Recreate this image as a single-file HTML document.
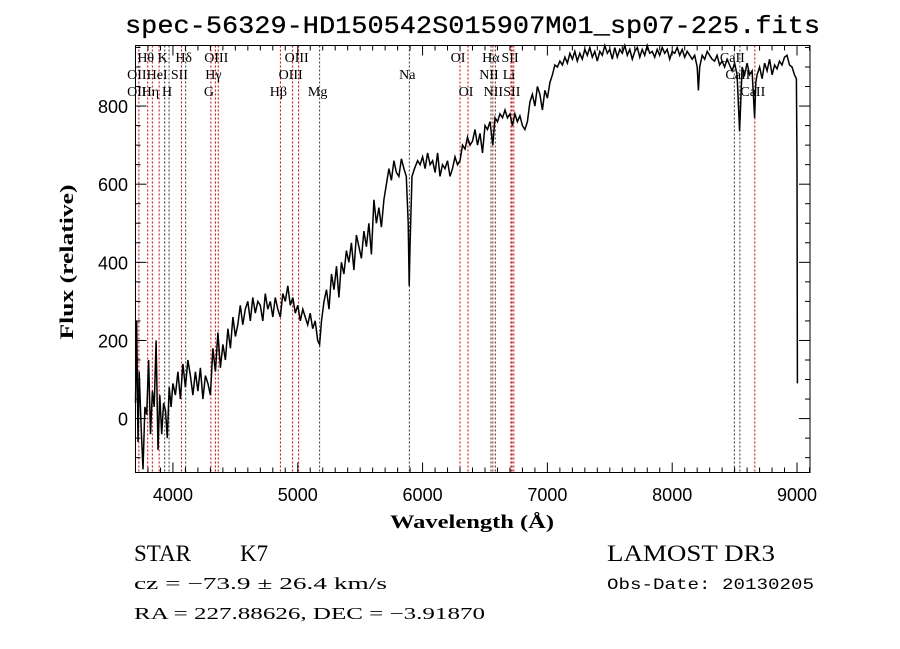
<!DOCTYPE html>
<html><head><meta charset="utf-8"><style>
html,body{margin:0;padding:0;background:#fff;}
svg{display:block;}
</style></head><body>
<svg id="chart" width="900" height="649" viewBox="0 0 900 649" xmlns="http://www.w3.org/2000/svg">
<rect width="900" height="649" fill="#fff"/>
<text x="125" y="33" font-family="Liberation Mono, monospace" font-size="25" stroke="#000" stroke-width="0.3" textLength="695" lengthAdjust="spacingAndGlyphs">spec-56329-HD150542S015907M01_sp07-225.fits</text>
<g id="lines"></g>
<g id="labels" font-family="Liberation Serif, DejaVu Serif, serif" font-size="14"></g>
<path id="spec" fill="none" stroke="#000" stroke-width="1.5"/>
<g id="axes"></g>
<rect x="135.5" y="45.5" width="674.5" height="427" fill="none" stroke="#000" stroke-width="1"/>
<text x="390" y="528" font-family="Liberation Serif, serif" font-weight="bold" font-size="19" textLength="164" lengthAdjust="spacingAndGlyphs">Wavelength (Å)</text>
<text transform="translate(73,262) rotate(-90)" text-anchor="middle" font-family="Liberation Serif, serif" font-weight="bold" font-size="19" textLength="155" lengthAdjust="spacingAndGlyphs">Flux (relative)</text>
<text x="134" y="561" font-family="Liberation Serif, serif" font-size="23">STAR</text>
<text x="240" y="561" font-family="Liberation Serif, serif" font-size="23">K7</text>
<text x="134" y="589" font-family="Liberation Serif, serif" font-size="17" textLength="253" lengthAdjust="spacingAndGlyphs">cz = −73.9 ± 26.4 km/s</text>
<text x="134" y="619" font-family="Liberation Serif, serif" font-size="17" textLength="351" lengthAdjust="spacingAndGlyphs">RA = 227.88626, DEC =  −3.91870</text>
<text x="607" y="561" font-family="Liberation Serif, serif" font-size="23" textLength="168" lengthAdjust="spacingAndGlyphs">LAMOST DR3</text>
<text x="607" y="589" font-family="Liberation Mono, monospace" font-size="16" textLength="207" lengthAdjust="spacingAndGlyphs">Obs-Date: 20130205</text>
</svg>
<script>
const waves=[3700,3710,3720,3730,3745,3760,3775,3790,3805,3820,3835,3850,3865,3880,3895,3910,3925,3940,3955,3970,3985,4000,4020,4040,4060,4080,4100,4120,4140,4160,4180,4200,4220,4240,4260,4280,4300,4320,4340,4360,4380,4400,4420,4440,4460,4480,4500,4520,4540,4560,4580,4600,4620,4640,4660,4680,4700,4720,4740,4760,4780,4800,4820,4840,4860,4880,4900,4920,4940,4960,4980,5000,5020,5040,5060,5080,5100,5120,5140,5160,5175,5190,5210,5230,5250,5270,5290,5310,5330,5350,5370,5390,5410,5430,5450,5470,5490,5510,5530,5550,5570,5590,5610,5630,5650,5670,5690,5710,5730,5750,5770,5790,5810,5830,5850,5870,5885,5893,5900,5915,5935,5960,5980,6000,6020,6040,6060,6080,6100,6120,6140,6160,6180,6200,6220,6240,6260,6280,6300,6320,6340,6360,6380,6400,6420,6440,6460,6480,6500,6520,6540,6563,6580,6600,6620,6640,6660,6680,6700,6720,6740,6760,6780,6800,6820,6840,6860,6880,6900,6920,6940,6960,6980,7000,7020,7040,7060,7080,7100,7120,7140,7160,7180,7200,7220,7240,7260,7280,7300,7320,7340,7360,7380,7400,7420,7440,7460,7480,7500,7520,7540,7560,7580,7600,7620,7640,7660,7680,7700,7720,7740,7760,7780,7800,7820,7840,7860,7880,7900,7920,7940,7960,7980,8000,8020,8040,8060,8080,8100,8120,8140,8160,8180,8200,8210,8220,8240,8260,8280,8300,8320,8340,8360,8380,8400,8420,8440,8460,8480,8500,8520,8540,8550,8560,8580,8600,8620,8640,8660,8670,8680,8700,8720,8740,8760,8780,8800,8820,8840,8860,8880,8900,8920,8940,8960,8980,8995,9000,9003];
const fluxes=[40,250,-60,120,-20,-130,30,10,150,-40,70,30,200,-80,60,-40,40,20,-50,80,30,90,60,120,50,140,80,150,110,60,120,70,130,50,110,90,60,180,120,220,130,190,150,230,180,260,210,240,290,240,280,300,250,310,270,300,290,250,320,280,300,260,310,280,260,320,300,340,290,310,270,290,250,280,260,240,270,230,250,200,190,250,300,330,280,370,330,390,310,400,370,430,400,450,380,470,440,410,480,440,500,420,560,500,540,490,560,600,640,610,660,630,620,665,640,620,500,340,450,620,640,660,650,670,640,680,650,660,630,680,620,650,640,660,620,640,670,650,660,700,690,720,700,710,740,700,730,680,750,740,760,700,770,760,780,770,790,770,780,750,780,760,775,750,740,760,810,830,800,850,830,790,840,820,860,880,905,900,915,905,925,910,935,920,940,915,935,920,945,930,950,925,940,915,940,930,955,935,945,920,950,925,945,935,955,930,945,920,940,950,925,945,930,955,935,940,925,945,930,950,935,945,920,940,935,950,930,945,925,940,930,920,930,900,840,900,930,920,940,930,920,915,930,905,915,900,920,905,890,910,880,735,820,900,880,910,880,890,770,860,880,900,870,910,890,920,880,905,895,915,905,925,930,905,900,880,870,650,90];
const lineWaves=[3727,3798,3835,3889,3934,3969,4068,4102,4304,4340,4363,4861,4959,5007,5175,5894,6300,6364,6548,6563,6583,6708,6717,6731,8498,8542,8662];
const lineAbsorb=[0,0,0,0,1,1,0,1,0,0,0,0,0,0,1,1,0,0,1,0,1,0,0,0,1,1,0];
const labelText=["Hθ","K","Hδ","OIII","OIII","OI","Hα","SII","CaII","OII","HeI","SII","Hγ","OIII","Na","NII","Li","CaII","OII","Hη","H","G","Hβ","Mg","OI","NII","SII","CaII"];
const labelWave=[3798,3934,4102,4363,5007,6300,6563,6717,8498,3727,3889,4068,4340,4959,5894,6548,6708,8542,3727,3835,3969,4304,4861,5175,6364,6583,6731,8662];
const labelRow=[0,0,0,0,0,0,0,0,0,1,1,1,1,1,1,1,1,1,2,2,2,2,2,2,2,2,2,2];
const xTicks=[4000,5000,6000,7000,8000,9000];
const yTicks=[0,200,400,600,800];

const X0=135.5,X1=810,Y0=45.5,Y1=472.5,WMIN=3700,WMAX=9104,FMIN=-138,FMAX=955;
const sx=w=>X0+(w-WMIN)/(WMAX-WMIN)*(X1-X0);
const sy=f=>Y1-(f-FMIN)/(FMAX-FMIN)*(Y1-Y0);
const NS="http://www.w3.org/2000/svg";
function mk(tag,attrs,parent){const e=document.createElementNS(NS,tag);for(const k in attrs)e.setAttribute(k,attrs[k]);parent.appendChild(e);return e;}

let d="";
waves.forEach((w,i)=>{d+=(i?"L":"M")+sx(w).toFixed(1)+","+sy(Math.max(FMIN,Math.min(FMAX,fluxes[i]))).toFixed(1);});
document.getElementById("spec").setAttribute("d",d);

const lg=document.getElementById("lines");
lineWaves.forEach((w,i)=>{
  const l=mk("line",{x1:sx(w),x2:sx(w),y1:Y0,y2:Y1,stroke:lineAbsorb[i]?"#333":"#c00000","stroke-width":1,"stroke-dasharray":"2,2"},lg);
  
  
});
const lb=document.getElementById("labels");
labelText.forEach((t,i)=>{
  const e=mk("text",{x:sx(labelWave[i])-2,y:62+labelRow[i]*17,"text-anchor":"middle"},lb);
  e.textContent=t;
  
  
});

const ax=document.getElementById("axes");
for(let w=3700;w<=9100;w+=100){
  const maj=w%1000===0, len=maj?10:5;
  mk("line",{x1:sx(w),x2:sx(w),y1:Y1,y2:Y1-len,stroke:"#000"},ax);
  mk("line",{x1:sx(w),x2:sx(w),y1:Y0,y2:Y0+len,stroke:"#000"},ax);
}
xTicks.forEach(w=>{
  const t=mk("text",{x:sx(w),y:501,"text-anchor":"middle","font-family":"Liberation Sans, sans-serif","font-size":18},ax);
  t.textContent=w;
  
  
});
for(let f=-100;f<=950;f+=50){
  const maj=f%200===0,len=maj?11:5;
  mk("line",{x1:X0,x2:X0+len,y1:sy(f),y2:sy(f),stroke:"#000"},ax);
  mk("line",{x1:X1,x2:X1-len,y1:sy(f),y2:sy(f),stroke:"#000"},ax);
}
yTicks.forEach(f=>{
  const t=mk("text",{x:128,y:sy(f)+7,"text-anchor":"end","font-family":"Liberation Sans, sans-serif","font-size":18},ax);
  t.textContent=f;
  
  
});
</script>
</body></html>
